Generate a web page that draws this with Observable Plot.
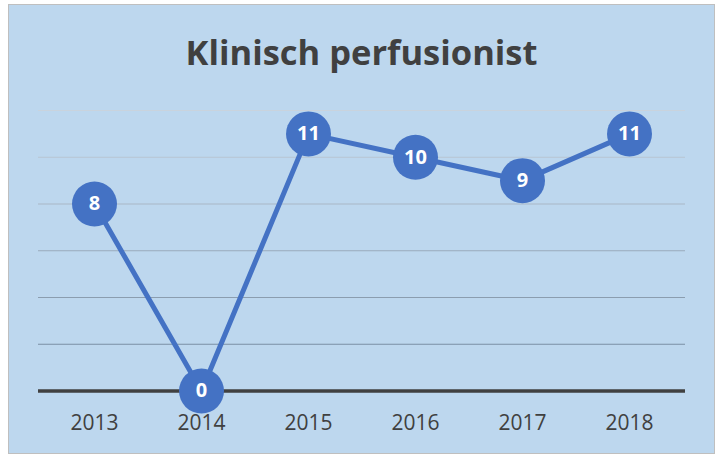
<!DOCTYPE html>
<html><head><meta charset="utf-8">
<script src="https://cdn.jsdelivr.net/npm/d3@7"></script>
<script src="https://cdn.jsdelivr.net/npm/@observablehq/plot@0.6"></script>
<style>
body{margin:0;background:#fff;}
#frame{position:absolute;left:8px;top:4px;width:705px;height:448px;background:#BDD7EE;border:1.5px solid #bfbfbf;}
#title{position:absolute;left:0;top:28px;width:723px;text-align:center;font-family:"Open Sans",sans-serif;font-weight:700;font-size:34.5px;color:#404040;}
#chart{position:absolute;left:0;top:0;}
</style></head>
<body>
<div id="frame"></div>
<div id="title">Klinisch perfusionist</div>
<div id="chart"></div>
<script>
const years = ["2013","2014","2015","2016","2017","2018"];
const values = [8, 0, 11, 10, 9, 11];
const gridTicks = [2, 4, 6, 8, 10, 12];

const data = years.map((y, i) => ({year: y, value: values[i]}));
const gridColor = d3.scaleLinear().domain([2, 12]).range(["#7b8fa4", "#c9d3dd"]);

const chart = Plot.plot({
  width: 723, height: 457,
  marginLeft: 38, marginRight: 38, marginTop: 110, marginBottom: 66.5,
  style: {background: "transparent", fontFamily: "Open Sans, sans-serif"},
  x: {type: "point", domain: years, padding: 0.5, label: null},
  y: {domain: [0, 12], axis: null},
  marks: [
    Plot.ruleY(gridTicks, {stroke: d => gridColor(d), strokeWidth: 1.2}),
    Plot.ruleY([0], {stroke: "#404040", strokeWidth: 3.5}),
    Plot.axisX({tickSize: 0, tickPadding: 24, fontSize: 21, fill: "#404040", label: null}),
    Plot.line(data, {x: "year", y: "value", stroke: "#4472C4", strokeWidth: 5}),
    Plot.dot(data, {x: "year", y: "value", r: 22.5, fill: "#4472C4", stroke: "none"}),
    Plot.text(data, {x: "year", y: "value", text: d => String(d.value), fill: "white", fontWeight: "bold", fontSize: 20})
  ]
});
document.getElementById("chart").appendChild(chart);
</script>
</body></html>
